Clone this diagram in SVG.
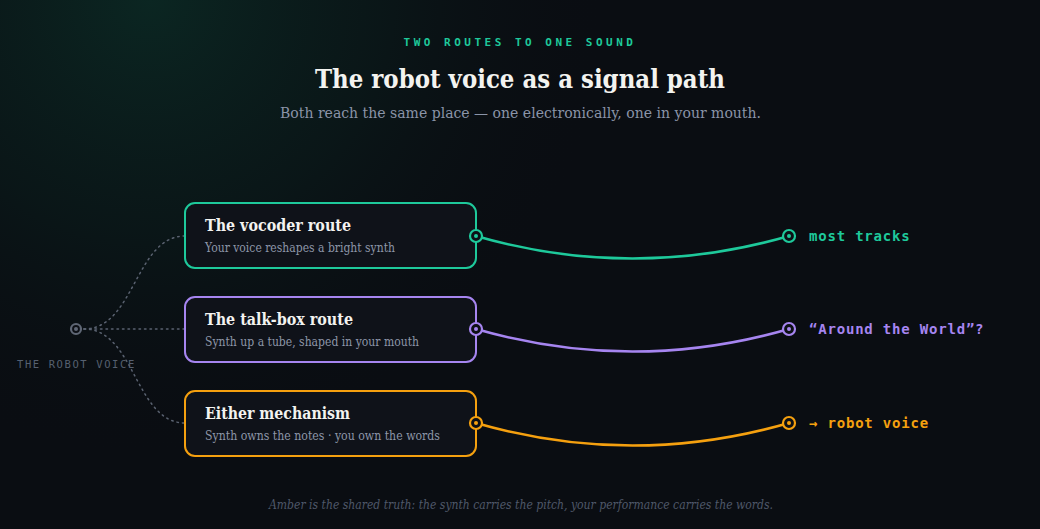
<svg xmlns="http://www.w3.org/2000/svg" width="1040" height="529" viewBox="0 0 1040 529">
<defs>
<radialGradient id="glow" cx="150" cy="0" r="460" gradientUnits="userSpaceOnUse">
<stop offset="0" stop-color="#0b2622" stop-opacity="1"/>
<stop offset="0.5" stop-color="#0a1a1a" stop-opacity="0.7"/>
<stop offset="1" stop-color="#0a0d12" stop-opacity="0"/>
</radialGradient>
<style>
.serif{font-family:"DejaVu Serif","Liberation Serif",serif}
.mono{font-family:"DejaVu Sans Mono","Liberation Mono",monospace}
.box{fill:#0f1219;stroke-width:2}
.ttl{font-size:17px;font-weight:700;fill:#f3f3f0}
.sub{font-size:13px;fill:#8d96a8}
.dot{fill:none;stroke:#5a6270;stroke-width:1.5;stroke-dasharray:1.5 4;stroke-linecap:round}
.wire{fill:none;stroke-width:2.5}
.port{fill:#0d1016;stroke-width:2.2}
.lbl{font-size:14px;font-weight:700;letter-spacing:0.8px}
</style>
</defs>
<rect width="1040" height="529" fill="#0a0d12"/>
<rect width="1040" height="529" fill="url(#glow)"/>

<text x="520" y="46" text-anchor="middle" class="mono" font-size="11" font-weight="700" letter-spacing="3.5" fill="#1ec99b">TWO ROUTES TO ONE SOUND</text>
<text x="315" y="88" class="serif" font-size="26.5" font-weight="700" fill="#f3f3f0" textLength="410" lengthAdjust="spacingAndGlyphs">The robot voice as a signal path</text>
<text x="280" y="118" class="serif" font-size="15.5" fill="#8a94a8" textLength="481" lengthAdjust="spacingAndGlyphs">Both reach the same place — one electronically, one in your mouth.</text>

<g id="connectors">
<path class="dot" d="M84,329 C135,329 135,236 185,236"/>
<path class="dot" d="M84,329 L185,329"/>
<path class="dot" d="M84,329 C135,329 135,423 185,423"/>
<path class="wire" stroke="#1ec99b" d="M476,236 C580,266 685,266 789,236"/>
<path class="wire" stroke="#a685f0" d="M476,329 C580,359 685,359 789,329"/>
<path class="wire" stroke="#f5a00f" d="M476,423 C580,453 685,453 789,423"/>
</g>

<g id="source">
<circle cx="76" cy="329" r="5" fill="#0d1016" stroke="#5f6775" stroke-width="2.2"/>
<circle cx="76" cy="329" r="2" fill="#5f6775"/>
<text x="17" y="368" class="mono" font-size="10.5" letter-spacing="1.6" fill="#566070">THE ROBOT VOICE</text>
</g>

<g id="node-vocoder">
<rect class="box" x="185" y="203" width="291" height="65" rx="10" stroke="#1ec99b"/>
<text x="205" y="231" class="serif ttl" textLength="146" lengthAdjust="spacingAndGlyphs">The vocoder route</text>
<text x="205" y="252" class="serif sub" textLength="190" lengthAdjust="spacingAndGlyphs">Your voice reshapes a bright synth</text>
<circle class="port" cx="476" cy="236" r="6" stroke="#1ec99b"/>
<circle cx="476" cy="236" r="2" fill="#1ec99b"/>
</g>

<g id="node-talkbox">
<rect class="box" x="185" y="297" width="291" height="65" rx="10" stroke="#a685f0"/>
<text x="205" y="325" class="serif ttl" textLength="148" lengthAdjust="spacingAndGlyphs">The talk-box route</text>
<text x="205" y="346" class="serif sub" textLength="214" lengthAdjust="spacingAndGlyphs">Synth up a tube, shaped in your mouth</text>
<circle class="port" cx="476" cy="329" r="6" stroke="#a685f0"/>
<circle cx="476" cy="329" r="2" fill="#a685f0"/>
</g>

<g id="node-either">
<rect class="box" x="185" y="391" width="291" height="65" rx="10" stroke="#f5a00f"/>
<text x="205" y="419" class="serif ttl" textLength="145" lengthAdjust="spacingAndGlyphs">Either mechanism</text>
<text x="205" y="440" class="serif sub" textLength="235" lengthAdjust="spacingAndGlyphs">Synth owns the notes · you own the words</text>
<circle class="port" cx="476" cy="423" r="6" stroke="#f5a00f"/>
<circle cx="476" cy="423" r="2" fill="#f5a00f"/>
</g>

<g id="out-most">
<circle class="port" cx="789" cy="236" r="6" stroke="#1ec99b"/>
<circle cx="789" cy="236" r="2" fill="#1ec99b"/>
<text x="809" y="241" class="mono lbl" fill="#1ec99b">most tracks</text>
</g>
<g id="out-world">
<circle class="port" cx="789" cy="329" r="6" stroke="#a685f0"/>
<circle cx="789" cy="329" r="2" fill="#a685f0"/>
<text x="809" y="334" class="mono lbl" fill="#a685f0">“Around the World”?</text>
</g>
<g id="out-robot">
<circle class="port" cx="789" cy="423" r="6" stroke="#f5a00f"/>
<circle cx="789" cy="423" r="2" fill="#f5a00f"/>
<text x="809" y="428" class="mono lbl" fill="#f5a00f">→ robot voice</text>
</g>

<text x="269" y="509" class="serif" font-size="13" font-style="italic" fill="#4f5869" textLength="504" lengthAdjust="spacingAndGlyphs">Amber is the shared truth: the synth carries the pitch, your performance carries the words.</text>
</svg>
